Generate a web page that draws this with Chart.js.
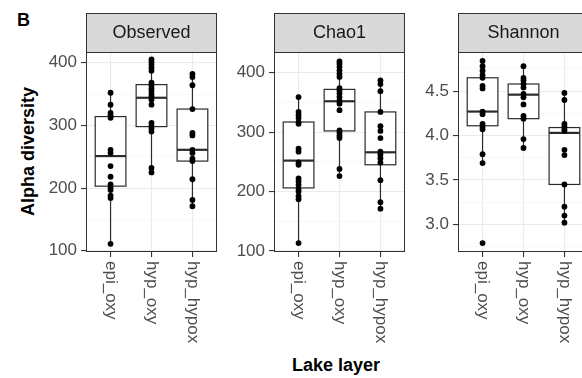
<!DOCTYPE html>
<html>
<head>
<meta charset="utf-8">
<script src="https://cdn.jsdelivr.net/npm/chart.js@4"></script>
<style>
  body { margin: 0; width: 582px; height: 378px; overflow: hidden; background: #fff; position: relative;
         font-family: "Liberation Sans", Arial, sans-serif; }
  canvas { position: absolute; top: 0; }
  .lbl { position: absolute; color: #000; font-weight: bold; white-space: nowrap; }
</style>
</head>
<body>
<div class="lbl" style="left:17px; top:10px; font-size:18px;">B</div>
<div class="lbl" style="left:-72px; top:141px; width:200px; text-align:center; font-size:18px; transform:rotate(-90deg);">Alpha diversity</div>
<div class="lbl" style="left:236px; top:355px; width:200px; text-align:center; font-size:18px;">Lake layer</div>
<canvas id="c0" width="221" height="378" style="left:0px"></canvas>
<canvas id="c1" width="221" height="378" style="left:188px"></canvas>
<canvas id="c2" width="221" height="378" style="left:372px"></canvas>
<script>
// categories and facets
const categories = ["epi_oxy", "hyp_oxy", "hyp_hypox"];
const panels = ["Observed", "Chao1", "Shannon"];

// Observed richness
const obsEpi = [352, 333, 320, 316, 312, 261, 256, 235, 218, 206, 201, 197, 188, 184, 111];
const obsHypOxy = [405, 401, 397, 392, 387, 368, 364, 359, 355, 350, 346, 341, 333, 304, 299, 295, 290, 232, 225];
const obsHypHypox = [382, 377, 364, 326, 288, 284, 261, 256, 247, 243, 214, 181, 171];
// box stats: [lower whisker, q1, median, q3, upper whisker]
const obsBox = [[111, 203, 251, 314, 352], [225, 298, 344, 365, 405], [171, 243, 261, 326, 382]];

// Chao1
const chaoEpi = [359, 334, 329, 324, 317, 314, 272, 267, 249, 245, 222, 217, 211, 204, 200, 192, 187, 113];
const chaoHypOxy = [419, 415, 410, 404, 398, 393, 374, 370, 365, 359, 353, 348, 337, 303, 299, 294, 290, 238, 226];
const chaoHypHypox = [387, 381, 369, 334, 310, 302, 290, 267, 262, 256, 249, 219, 182, 171];
const chaoBox = [[113, 206, 252, 317, 359], [226, 302, 352, 372, 419], [171, 245, 266, 334, 387]];

// Shannon
const shEpi = [4.84, 4.78, 4.73, 4.68, 4.65, 4.56, 4.53, 4.27, 4.24, 4.13, 4.10, 4.07, 3.79, 3.69, 2.79];
const shHypOxy = [4.78, 4.65, 4.62, 4.58, 4.54, 4.47, 4.43, 4.35, 4.22, 4.19, 3.96, 3.86];
const shHypHypox = [4.48, 4.40, 4.13, 4.10, 4.07, 4.05, 3.84, 3.78, 3.45, 3.20, 3.10, 3.02];
const shBox = [[3.69, 4.11, 4.27, 4.65, 4.84], [3.86, 4.19, 4.46, 4.58, 4.78], [3.02, 3.45, 4.03, 4.09, 4.48]];

// y axis ticks (major labelled, minor only gridlines)
const countMajor = [100, 200, 300, 400];
const countMinor = [150, 250, 350];
const shMajor = [3.0, 3.5, 4.0, 4.5];
const shMinor = [2.75, 3.25, 3.75, 4.25, 4.75];

const facets = [
  { points: [obsEpi, obsHypOxy, obsHypHypox], box: obsBox, min: 98, max: 417, major: countMajor, minor: countMinor, dec: 0 },
  { points: [chaoEpi, chaoHypOxy, chaoHypHypox], box: chaoBox, min: 98, max: 435, major: countMajor, minor: countMinor, dec: 0 },
  { points: [shEpi, shHypOxy, shHypHypox], box: shBox, min: 2.69, max: 4.94, major: shMajor, minor: shMinor, dec: 1 }
];

const FONT = '"Liberation Sans", Arial, sans-serif';

// boxplots, strip, panel border and rotated category labels
const facetPlugin = {
  id: "facet",
  beforeDatasetsDraw(chart) {
    const { ctx, scales: { x, y } } = chart;
    const f = chart.options.plugins.facet;
    ctx.save();
    f.box.forEach((b, i) => {
      const cx = x.getPixelForValue(i);
      const l = x.getPixelForValue(i - 0.375), r = x.getPixelForValue(i + 0.375);
      ctx.strokeStyle = "#2b2b2b";
      ctx.lineWidth = 1.2;
      ctx.beginPath();
      ctx.moveTo(cx, y.getPixelForValue(b[0]));
      ctx.lineTo(cx, y.getPixelForValue(b[1]));
      ctx.moveTo(cx, y.getPixelForValue(b[3]));
      ctx.lineTo(cx, y.getPixelForValue(b[4]));
      ctx.stroke();
      const top = y.getPixelForValue(b[3]), bot = y.getPixelForValue(b[1]);
      ctx.fillStyle = "#fff";
      ctx.fillRect(l, top, r - l, bot - top);
      ctx.strokeRect(l, top, r - l, bot - top);
      ctx.lineWidth = 2.2;
      ctx.beginPath();
      ctx.moveTo(l, y.getPixelForValue(b[2]));
      ctx.lineTo(r, y.getPixelForValue(b[2]));
      ctx.stroke();
    });
    ctx.restore();
  },
  afterDraw(chart) {
    const { ctx, chartArea: a, scales: { x } } = chart;
    const f = chart.options.plugins.facet;
    ctx.save();
    // strip
    ctx.fillStyle = "#d9d9d9";
    ctx.fillRect(a.left, 13, a.right - a.left, a.top - 13);
    ctx.strokeStyle = "#333";
    ctx.lineWidth = 1;
    ctx.strokeRect(a.left + 0.5, 13.5, a.right - a.left - 1, a.top - 13);
    ctx.fillStyle = "#1a1a1a";
    ctx.font = "18px " + FONT;
    ctx.textAlign = "center";
    ctx.textBaseline = "middle";
    ctx.fillText(f.title, (a.left + a.right) / 2, (13 + a.top) / 2 + 1);
    // panel border
    ctx.strokeRect(a.left + 0.5, a.top + 0.5, a.right - a.left - 1, a.bottom - a.top - 1);
    // category labels, reading top to bottom
    ctx.fillStyle = "#4d4d4d";
    ctx.font = "17px " + FONT;
    ctx.textAlign = "left";
    categories.forEach((c, i) => {
      ctx.save();
      ctx.translate(x.getPixelForValue(i), a.bottom + 9);
      ctx.rotate(Math.PI / 2);
      ctx.fillText(c, 0, 0);
      ctx.restore();
    });
    ctx.restore();
  }
};

facets.forEach((f, k) => {
  const isMajor = v => f.major.some(m => Math.abs(m - v) < 1e-6);
  new Chart(document.getElementById("c" + k), {
    type: "scatter",
    data: {
      datasets: f.points.map((vals, i) => ({
        data: vals.map(v => ({ x: i, y: v })),
        backgroundColor: "#000",
        borderWidth: 0,
        pointRadius: 2.9
      }))
    },
    options: {
      responsive: false,
      animation: false,
      devicePixelRatio: 1,
      layout: { padding: { top: 52, right: 4, left: 0, bottom: 26 } },
      plugins: {
        legend: { display: false },
        tooltip: { enabled: false },
        facet: { title: panels[k], box: f.box }
      },
      scales: {
        x: {
          type: "linear",
          min: -0.6,
          max: 2.6,
          afterBuildTicks: s => { s.ticks = [0, 1, 2].map(v => ({ value: v })); },
          afterFit: s => { s.height = 100; },
          ticks: { callback: () => "" },
          border: { display: false },
          grid: { color: "#ebebeb", lineWidth: 1.1, tickLength: 5, tickColor: "#333" }
        },
        y: {
          min: f.min,
          max: f.max,
          afterBuildTicks: s => {
            s.ticks = f.major.concat(f.minor).sort((a, b) => a - b).map(v => ({ value: v }));
          },
          afterFit: s => { s.width = 86; },
          border: { display: false },
          ticks: {
            color: "#4d4d4d",
            padding: 4,
            font: { family: FONT, size: 17 },
            callback: v => isMajor(v) ? v.toFixed(f.dec) : ""
          },
          grid: {
            color: c => isMajor(c.tick.value) ? "#ebebeb" : "#f4f4f4",
            lineWidth: c => isMajor(c.tick.value) ? 1.1 : 0.7,
            tickLength: 5,
            tickColor: c => isMajor(c.tick.value) ? "#333" : "rgba(0,0,0,0)"
          }
        }
      }
    },
    plugins: [facetPlugin]
  });
});
</script>
</body>
</html>
